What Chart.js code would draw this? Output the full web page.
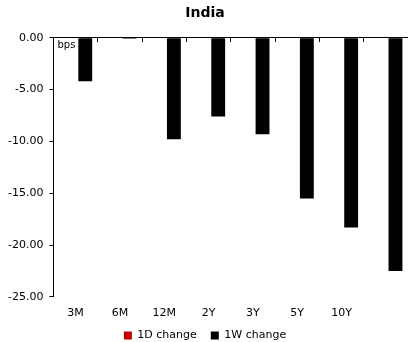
<!DOCTYPE html>
<html>
<head>
<meta charset="utf-8">
<script src="https://cdn.jsdelivr.net/npm/chart.js@4.4.0/dist/chart.umd.min.js"></script>
<style>
  html, body { margin: 0; padding: 0; background: #fff; }
  #wrap { width: 408px; height: 342px; }
</style>
</head>
<body>
<div id="wrap"><canvas id="myChart"></canvas></div>
<script>
// tenors along the curve (last one has no label printed)
var tenors = ['3M', '6M', '12M', '2Y', '3Y', '5Y', '10Y', ''];
// yield changes in bps
var oneDay = [0, 0, 0, 0, 0, 0, 0, 0];
var oneWeek = [-4.2, -0.1, -9.8, -7.6, -9.3, -15.5, -18.3, -22.5];
var yTicks = [0, -5, -10, -15, -20, -25];

var FONT = 'DejaVu Sans';

// small "bps" unit tag in the top-left corner of the plot
var unitLabel = {
  id: 'unitLabel',
  afterDraw: function(chart) {
    var c = chart.ctx, a = chart.chartArea;
    c.save();
    c.font = '10px ' + FONT;
    c.fillStyle = '#000';
    c.textBaseline = 'middle';
    c.fillText('bps', a.left + 4, a.top + 8);
    c.restore();
  }
};

var ctx = document.getElementById('myChart').getContext('2d');
var myChart = new Chart(ctx, {
  type: 'bar',
  data: {
    labels: tenors,
    datasets: [{
      label: '1D change',
      data: oneDay,
      backgroundColor: '#C00000',
      barPercentage: 0.72,
      categoryPercentage: 0.87
    }, {
      label: '1W change',
      data: oneWeek,
      backgroundColor: '#000000',
      barPercentage: 0.72,
      categoryPercentage: 0.87
    }]
  },
  options: {
    responsive: true,
    maintainAspectRatio: false,
    animation: false,
    layout: { padding: { left: 2, right: 0, top: 0, bottom: -9 } },
    plugins: {
      title: {
        display: true,
        text: 'India',
        color: '#000',
        font: { family: FONT, size: 14, weight: 'bold' },
        padding: { top: 5, bottom: 16 }
      },
      legend: {
        position: 'bottom',
        labels: {
          color: '#000',
          boxWidth: 8,
          boxHeight: 8,
          padding: 0,
          font: { family: FONT, size: 11 },
          // padding is 0 to keep the legend tight to the axis,
          // so space the entries out with trailing blanks instead
          generateLabels: function(chart) {
            var items = Chart.defaults.plugins.legend.labels.generateLabels(chart);
            items.forEach(function(it, i) {
              if (i < items.length - 1) it.text = it.text + '    ';
            });
            return items;
          }
        }
      },
      tooltip: { enabled: false }
    },
    scales: {
      x: {
        grid: { display: false, drawTicks: false },
        border: { display: false },
        ticks: {
          color: '#000',
          padding: 10,
          maxRotation: 0,
          autoSkip: false,
          font: { family: FONT, size: 11 }
        }
      },
      // axis line with tick marks sitting on the zero level
      x2: {
        type: 'category',
        position: { y: 0 },
        offset: true,
        grid: {
          offset: true,
          drawOnChartArea: false,
          drawTicks: true,
          tickLength: 4,
          color: '#000'
        },
        border: { display: true, color: '#000', width: 1 },
        ticks: { display: false }
      },
      y: {
        min: -25,
        max: 0,
        afterBuildTicks: function(axis) {
          axis.ticks = yTicks.map(function(v) { return { value: v }; });
        },
        grid: {
          drawOnChartArea: false,
          drawTicks: true,
          tickLength: 4,
          color: '#000'
        },
        border: { display: true, color: '#000', width: 1 },
        ticks: {
          color: '#000',
          padding: 6,
          font: { family: FONT, size: 11 },
          callback: function(v) { return Number(v).toFixed(2); }
        }
      }
    }
  },
  plugins: [unitLabel]
});
</script>
</body>
</html>
